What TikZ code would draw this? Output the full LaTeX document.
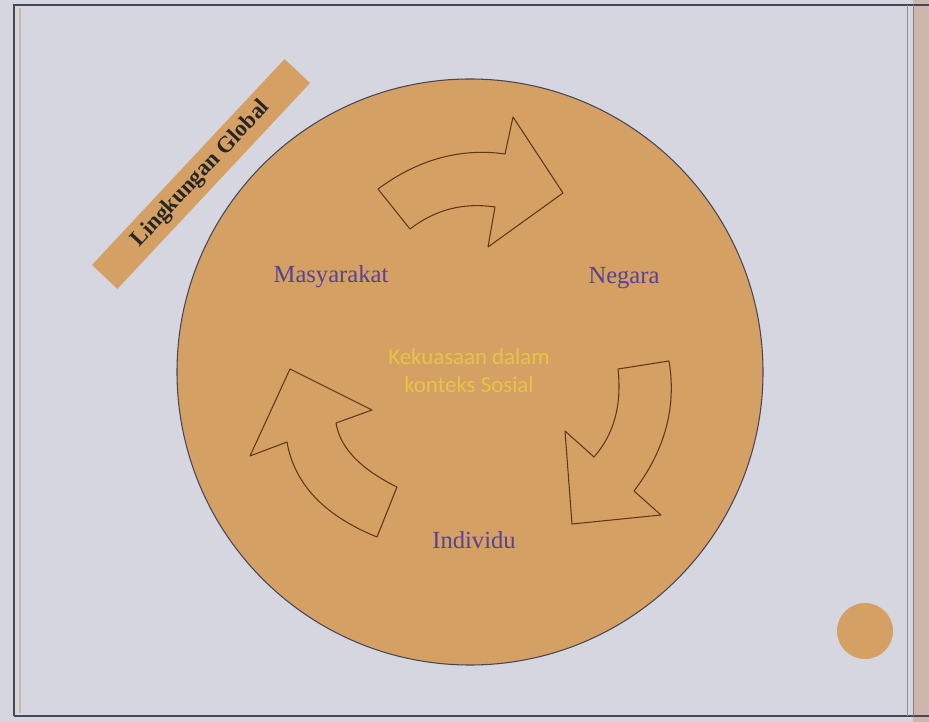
\documentclass[tikz,border=0pt]{standalone}
\usepackage{fontspec}
\setmainfont{Liberation Serif}
\newfontfamily\calfont{Carlito}
\definecolor{bgc}{RGB}{214,214,224}
\definecolor{orangec}{RGB}{213,160,100}
\definecolor{stripc}{RGB}{205,182,172}
\definecolor{purplec}{RGB}{88,66,146}
\definecolor{yellowc}{RGB}{232,196,70}
\definecolor{arrowline}{RGB}{95,55,25}
\definecolor{framec}{RGB}{70,70,85}
\tikzset{
  label/.style={font=\fontsize{14}{16}\selectfont, text=purplec, inner sep=0pt},
  bigarrow/.style={draw=arrowline, line width=0.6pt, fill=orangec, line join=round},
  frameline/.style={draw=framec, line width=0.9pt}
}
\begin{document}
\begin{tikzpicture}[x=0.02cm, y=-0.02cm]
\useasboundingbox (0,0) rectangle (929,722);
\fill[bgc] (0,0) rectangle (929,722);
\fill[stripc] (913,0) rectangle (929,722);
% frame
\draw[frameline] (14,716) -- (14,5) -- (929,5);
\draw[frameline] (14,716) -- (929,716);
\draw[draw=framec!60, line width=0.5pt] (907,5) -- (907,716);
\draw[draw=stripc!70!black, line width=0.4pt] (913,5) -- (913,716);
\draw[draw=stripc, line width=0.8pt] (20,8) -- (20,713);
% main circle
\draw[fill=orangec, draw=framec, line width=0.6pt] (470,372) circle[radius=293];
% banner
\node[fill=orangec, rotate=46.9, minimum width=5.64cm, minimum height=0.7cm, inner sep=0pt,
      font=\bfseries\fontsize{13}{15}\selectfont, text=black!85] (banner) at (201,174) {Lingkungan Global};
% top arrow
\draw[bigarrow] (378,189) .. controls (418.3,159.3) and (460.7,147.7) .. (505,154) -- (513,117) -- (563,193)
  -- (488,247) -- (495,207) .. controls (463.3,202.3) and (435,209.7) .. (410,229) -- cycle;
% right arrow
\draw[bigarrow] (618,369) -- (669,361) .. controls (676.7,407) and (665,450.3) .. (634,491) -- (661,515)
  -- (572,524) -- (565,431) -- (594,457) .. controls (614,434.3) and (622,405) .. (618,369) -- cycle;
% left arrow
\draw[bigarrow] (397,487) -- (377,537) .. controls (324.3,515.7) and (294.3,484) .. (287,442) -- (250,456)
  -- (290,369) -- (372,410) -- (336,423) .. controls (340,447.7) and (360.3,469) .. (397,487) -- cycle;
% labels
\node[label] (masy) at (331,277) {Masyarakat};
\node[label] (neg) at (624,278) {Negara};
\node[label] (ind) at (474,540) {Individu};
\node[font=\calfont\fontsize{13}{16}\selectfont, text=yellowc, align=center, inner sep=0pt] (center) at (469,371)
  {Kekuasaan dalam\\konteks Sosial};
% small circle
\fill[orangec] (865,631) circle[radius=28];
\end{tikzpicture}
\end{document}
